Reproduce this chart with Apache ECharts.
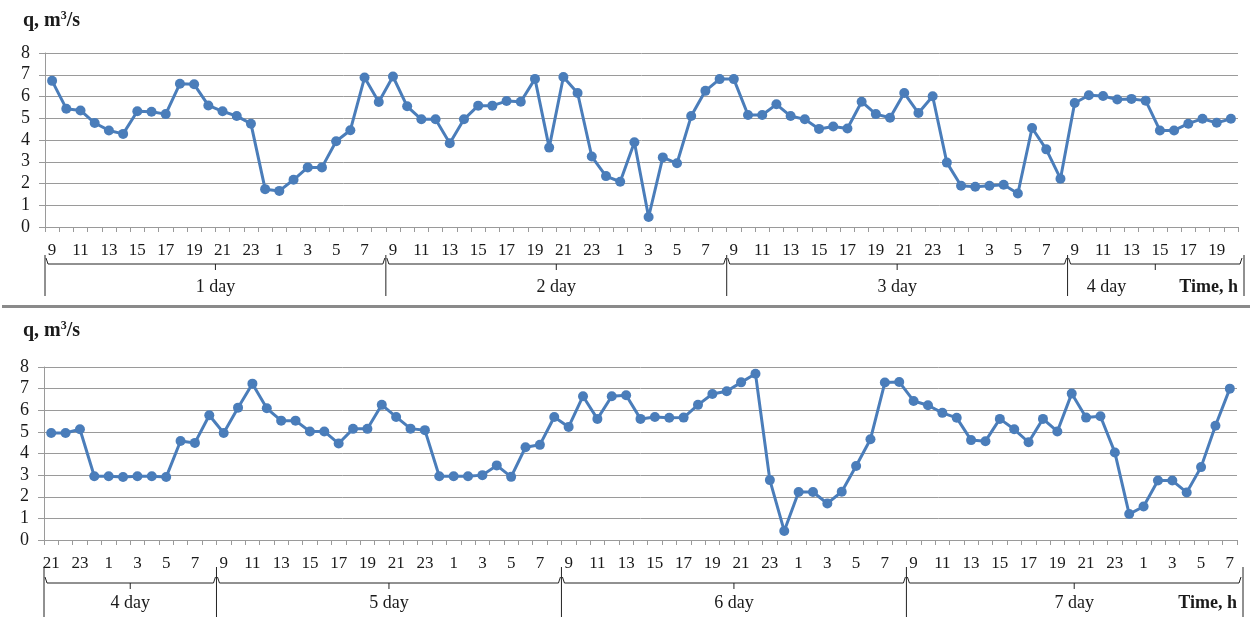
<!DOCTYPE html>
<html>
<head>
<meta charset="utf-8">
<script src="https://cdn.jsdelivr.net/npm/echarts@6/dist/echarts.min.js"></script>
<style>
html,body{margin:0;padding:0;background:#fff;}
#chart{width:1250px;height:617px;}
</style>
</head>
<body>
<div id="chart"></div>
<script>
// ---- Data ----
const hoursTop = [9,10,11,12,13,14,15,16,17,18,19,20,21,22,23,0,1,2,3,4,5,6,7,8,
  9,10,11,12,13,14,15,16,17,18,19,20,21,22,23,0,1,2,3,4,5,6,7,8,
  9,10,11,12,13,14,15,16,17,18,19,20,21,22,23,0,1,2,3,4,5,6,7,8,
  9,10,11,12,13,14,15,16,17,18,19,20];
const flowTop = [6.72,5.44,5.36,4.78,4.44,4.28,5.32,5.30,5.19,6.59,6.56,5.59,5.32,5.10,4.75,1.74,1.66,2.17,2.74,2.74,3.94,4.45,6.87,5.75,
  6.92,5.55,4.95,4.95,3.85,4.95,5.58,5.58,5.79,5.76,6.81,3.65,6.90,6.16,3.24,2.34,2.08,3.90,0.46,3.20,2.93,5.10,6.26,6.80,
  6.80,5.15,5.15,5.64,5.10,4.95,4.51,4.62,4.53,5.76,5.19,5.02,6.16,5.24,6.01,2.96,1.90,1.85,1.90,1.94,1.54,4.55,3.57,2.22,
  5.70,6.06,6.02,5.86,5.89,5.81,4.44,4.44,4.75,4.98,4.79,4.98];
const hoursBottom = [21,22,23,0,1,2,3,4,5,6,7,8,
  9,10,11,12,13,14,15,16,17,18,19,20,21,22,23,0,1,2,3,4,5,6,7,8,
  9,10,11,12,13,14,15,16,17,18,19,20,21,22,23,0,1,2,3,4,5,6,7,8,
  9,10,11,12,13,14,15,16,17,18,19,20,21,22,23,0,1,2,3,4,5,6,7];
const flowBottom = [4.95,4.95,5.12,2.95,2.95,2.91,2.95,2.95,2.91,4.58,4.49,5.77,
  4.95,6.12,7.23,6.09,5.52,5.52,5.02,5.02,4.46,5.14,5.14,6.25,5.69,5.15,5.08,2.95,2.95,2.95,3.00,3.45,2.92,4.29,4.40,5.69,
  5.23,6.65,5.60,6.65,6.69,5.60,5.69,5.65,5.66,6.25,6.75,6.88,7.29,7.69,2.77,0.42,2.22,2.22,1.69,2.23,3.42,4.66,7.28,7.31,
  6.43,6.23,5.88,5.65,4.62,4.57,5.60,5.12,4.52,5.60,5.02,6.77,5.66,5.72,4.05,1.20,1.55,2.75,2.75,2.20,3.37,5.28,7.00];
const daysTop = ['1 day','2 day','3 day','4 day'];
const dayCountsTop = [24,24,24,12];
const daysBottom = ['4 day','5 day','6 day','7 day'];
const dayCountsBottom = [12,24,24,23];
const yTicks = [0,1,2,3,4,5,6,7,8];

// ---- Styles ----
const SERIF = '"Liberation Serif","Times New Roman",serif';
const LINE = '#4a7dba';
const GRID = '#9a9a9a';
const TXT = '#1a1a1a';

const chart = echarts.init(document.getElementById('chart'), null, {renderer:'canvas'});

function xAxisCfg(gridIndex, data){
  return {
    type:'category', gridIndex, data: data.map(String), boundaryGap:true,
    axisLine:{show:true, lineStyle:{color:GRID, width:1}},
    axisTick:{show:true, interval:0, length:5, lineStyle:{color:GRID}},
    axisLabel:{interval:1, margin:15, fontFamily:SERIF, fontSize:17, color:TXT},
    splitLine:{show:false}
  };
}
function yAxisCfg(gridIndex){
  return {
    type:'value', gridIndex, min:yTicks[0], max:yTicks[yTicks.length-1], interval:1,
    axisLine:{show:true, lineStyle:{color:GRID, width:1}},
    axisTick:{show:true, length:6, lineStyle:{color:GRID}},
    axisLabel:{margin:15, fontFamily:SERIF, fontSize:18, color:TXT},
    splitLine:{show:true, lineStyle:{color:GRID, width:1}}
  };
}
function seriesCfg(i, data){
  return {
    type:'line', xAxisIndex:i, yAxisIndex:i, data,
    symbol:'circle', symbolSize:10, showSymbol:true, showAllSymbol:true,
    lineStyle:{color:LINE, width:3}, itemStyle:{color:LINE},
    animation:false
  };
}
const titleRich = {
  b:{fontFamily:SERIF, fontSize:20, fontWeight:'bold', color:TXT},
  sup:{fontFamily:SERIF, fontSize:12, fontWeight:'bold', color:TXT, verticalAlign:'top', padding:[0,0,9,0]}
};

chart.setOption({
  animation:false,
  title:[
    {left:18, top:5, text:'{b|q, m}{sup|3}{b|/s}', textStyle:{rich:titleRich}},
    {left:18, top:315, text:'{b|q, m}{sup|3}{b|/s}', textStyle:{rich:titleRich}}
  ],
  grid:[
    {left:45, right:12, top:53, height:174},
    {left:44, right:13, top:367, height:173}
  ],
  xAxis:[xAxisCfg(0, hoursTop), xAxisCfg(1, hoursBottom)],
  yAxis:[yAxisCfg(0), yAxisCfg(1)],
  series:[seriesCfg(0, flowTop), seriesCfg(1, flowBottom)]
});

// ---- Day brackets (positions from the axes) ----
function brackets(axisIndex, counts, labels, hy, vy1, vy2, ly, lastLabelOffset){
  const els = [];
  const c0 = chart.convertToPixel({xAxisIndex:axisIndex}, 0);
  const c1 = chart.convertToPixel({xAxisIndex:axisIndex}, 1);
  const step = c1 - c0;
  let start = 0;
  const stroke = {stroke:'#222', lineWidth:1};
  for (let s=0; s<counts.length; s++){
    let xs = c0 - step/2 + start*step;
    let xe = c0 - step/2 + (start+counts[s])*step;
    if (s === counts.length-1) xe += 5;
    const xc = (xs+xe)/2;
    els.push({type:'polyline', silent:true, shape:{points:[[xs+1,hy-6],[xs+3,hy],[xe-3,hy],[xe-1,hy-6]]}, style:stroke});
    els.push({type:'line', silent:true, shape:{x1:xc,y1:hy,x2:xc,y2:hy+6}, style:stroke});
    els.push({type:'line', silent:true, shape:{x1:xs,y1:vy1,x2:xs,y2:vy2}, style:stroke});
    if (s === counts.length-1) els.push({type:'line', silent:true, shape:{x1:xe+1,y1:vy1,x2:xe+1,y2:vy2}, style:stroke});
    const lx = (s === counts.length-1 && lastLabelOffset != null) ? xs + lastLabelOffset : xc;
    els.push({type:'text', silent:true, x:lx, y:ly, style:{text:labels[s], font:'18px '+SERIF, fill:TXT, align:'center', verticalAlign:'middle'}});
    start += counts[s];
  }
  const xEnd = c0 - step/2 + start*step;
  els.push({type:'text', silent:true, x:xEnd, y:ly, style:{text:'Time, h', font:'bold 18px '+SERIF, fill:TXT, align:'right', verticalAlign:'middle'}});
  return els;
}

const g = [];
g.push({type:'rect', silent:true, shape:{x:2, y:305, width:1248, height:3}, style:{fill:'#8a8a8a'}});
brackets(0, dayCountsTop, daysTop, 264, 255, 296, 287, 39).forEach(e=>g.push(e));
brackets(1, dayCountsBottom, daysBottom, 583, 567, 617, 603, null).forEach(e=>g.push(e));
chart.setOption({graphic:g});
</script>
</body>
</html>
